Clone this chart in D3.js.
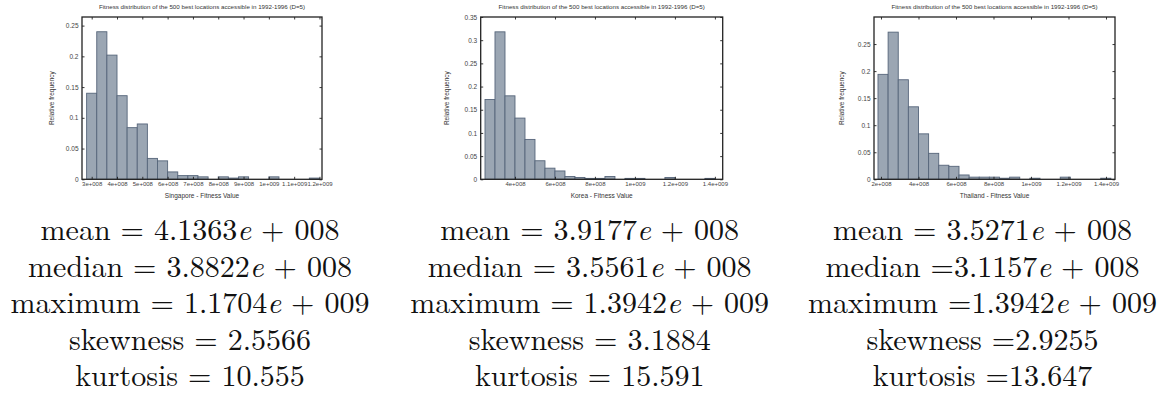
<!DOCTYPE html>
<html>
<head>
<meta charset="utf-8">
<script src="https://cdn.jsdelivr.net/npm/d3@7"></script>
<style>
  html, body { margin: 0; padding: 0; background: #fff; }
  svg { display: block; }
</style>
</head>
<body>
<svg id="chart" width="1173" height="400"></svg>
<script>
const chartTitle = 'Fitness distribution of the 500 best locations accessible in 1992-1996 (D=5)';
const countries = ['Singapore', 'Korea', 'Thailand'];

// relative frequency of each bin (23 bins per country)
const singaporeFreq = [0.14, 0.24, 0.202, 0.136, 0.084, 0.09, 0.034, 0.03, 0.012, 0.006, 0.006, 0.004,
  0, 0.004, 0.002, 0.004, 0, 0, 0.004, 0, 0, 0, 0.002];
const koreaFreq = [0.172, 0.318, 0.18, 0.132, 0.086, 0.04, 0.024, 0.018, 0.006, 0.004, 0.002, 0.002,
  0.006, 0, 0.002, 0.002, 0, 0, 0.004, 0, 0, 0, 0.002];
const thailandFreq = [0.194, 0.272, 0.184, 0.134, 0.084, 0.048, 0.026, 0.024, 0.008, 0.004, 0.004, 0.004,
  0.002, 0.004, 0, 0.002, 0, 0, 0.004, 0, 0, 0, 0.002];

// first bin edge and bin width (fitness value)
const binStart = [2.8e8, 2.5e8, 1.84e8];
const binWidth = [0.4e8, 0.5e8, 0.54e8];

// x ticks and their labels
const singaporeTicks = [3e8, 4e8, 5e8, 6e8, 7e8, 8e8, 9e8, 10e8, 11e8, 12e8];
const singaporeTickLabels = ['3e+008', '4e+008', '5e+008', '6e+008', '7e+008', '8e+008', '9e+008', '1e+009', '1.1e+009', '1.2e+009'];
const koreaTicks = [4e8, 6e8, 8e8, 10e8, 12e8, 14e8];
const koreaTickLabels = ['4e+008', '6e+008', '8e+008', '1e+009', '1.2e+009', '1.4e+009'];
const thailandTicks = [2e8, 4e8, 6e8, 8e8, 10e8, 12e8, 14e8];
const thailandTickLabels = ['2e+008', '4e+008', '6e+008', '8e+008', '1e+009', '1.2e+009', '1.4e+009'];

// y ticks
const singaporeYTicks = [0, 0.05, 0.1, 0.15, 0.2, 0.25];
const koreaYTicks = [0, 0.05, 0.1, 0.15, 0.2, 0.25, 0.3, 0.35];
const thailandYTicks = [0, 0.05, 0.1, 0.15, 0.2, 0.25];

// summary statistics under each plot
const statNames = ['mean', 'median', 'maximum', 'skewness', 'kurtosis'];
const singaporeStats = ['4.1363e+008', '3.8822e+008', '1.1704e+009', '2.5566', '10.555'];
const koreaStats = ['3.9177e+008', '3.5561e+008', '1.3942e+009', '3.1884', '15.591'];
const thailandStats = ['3.5271e+008', '3.1157e+008', '1.3942e+009', '2.9255', '13.647'];
const singaporeEq = [' = ', ' = ', ' = ', ' = ', ' = '];
const koreaEq = [' = ', ' = ', ' = ', ' = ', ' = '];
const thailandEq = [' = ', ' =', ' =', ' =', ' ='];

const panels = [
  { freq: singaporeFreq, ticks: singaporeTicks, tickLabels: singaporeTickLabels, yTicks: singaporeYTicks, stats: singaporeStats, eq: singaporeEq },
  { freq: koreaFreq, ticks: koreaTicks, tickLabels: koreaTickLabels, yTicks: koreaYTicks, stats: koreaStats, eq: koreaEq },
  { freq: thailandFreq, ticks: thailandTicks, tickLabels: thailandTickLabels, yTicks: thailandYTicks, stats: thailandStats, eq: thailandEq }
];

// layout, in pixels
const frames = [{ l: 82, r: 322 }, { l: 480.7, r: 722.7 }, { l: 874, r: 1115 }];
const frameTop = 17;
const frameBottom = 179.3;
const xDomains = [[2.617e8, 12.1e8], [2.285e8, 14.39e8], [1.627e8, 14.48e8]];
const yMax = [0.264, 0.35, 0.3];
const yLabelOffset = [30, 34, 32];
const tickLen = 2.5;
const sansFont = 'Liberation Sans, Arial, sans-serif';
const serifFont = 'Latin Modern Roman, CMU Serif, Computer Modern, Liberation Serif, serif';

const svg = d3.select('#chart');
const yFmt = (d) => (d === 0 ? '0' : String(+d.toFixed(2)));

// one stats line made of separate text pieces (so the "e" can be italic)
function statLine (g, cx, baseline, pieces) {
  const nodes = pieces.map((pc) => g.append('text')
    .attr('font-family', serifFont).attr('font-size', 30).attr('fill', '#111')
    .attr('font-style', pc.italic ? 'italic' : null)
    .style('white-space', 'pre')
    .attr('y', baseline)
    .text(pc.text));
  const widths = nodes.map((n) => n.node().getComputedTextLength());
  let xPos = cx - d3.sum(widths) / 2;
  nodes.forEach((n, k) => {
    n.attr('x', xPos);
    xPos += widths[k];
  });
}

panels.forEach((p, i) => {
  const { l, r } = frames[i];
  const x = d3.scaleLinear().domain(xDomains[i]).range([l, r]);
  const y = d3.scaleLinear().domain([0, yMax[i]]).range([frameBottom, frameTop]);
  const g = svg.append('g');

  const bins = p.freq.map((f, k) => ({
    x0: binStart[i] + k * binWidth[i],
    x1: binStart[i] + (k + 1) * binWidth[i],
    f
  })).filter((b) => b.f > 0);

  g.selectAll('rect.bar')
    .data(bins)
    .join('rect')
    .attr('class', 'bar')
    .attr('x', (b) => x(b.x0))
    .attr('y', (b) => y(b.f))
    .attr('width', (b) => x(b.x1) - x(b.x0))
    .attr('height', (b) => y(0) - y(b.f))
    .attr('fill', '#9ba6b3')
    .attr('stroke', '#56657a')
    .attr('stroke-width', 0.9);

  // frame ticks, pointing inward on every side
  const labelMap = new Map(p.ticks.map((t, k) => [t, p.tickLabels[k]]));
  const bottom = g.append('g').attr('transform', `translate(0,${frameBottom})`)
    .call(d3.axisBottom(x).tickValues(p.ticks).tickSizeInner(-tickLen).tickSizeOuter(0)
      .tickPadding(2.5).tickFormat((d) => labelMap.get(d)));
  const top = g.append('g').attr('transform', `translate(0,${frameTop})`)
    .call(d3.axisTop(x).tickValues(p.ticks).tickSizeInner(-tickLen).tickSizeOuter(0).tickFormat(''));
  const left = g.append('g').attr('transform', `translate(${l},0)`)
    .call(d3.axisLeft(y).tickValues(p.yTicks).tickSizeInner(-tickLen).tickSizeOuter(0)
      .tickPadding(3.5).tickFormat(yFmt));
  const right = g.append('g').attr('transform', `translate(${r},0)`)
    .call(d3.axisRight(y).tickValues(p.yTicks).tickSizeInner(-tickLen).tickSizeOuter(0).tickFormat(''));

  [bottom, top, left, right].forEach((a) => {
    a.select('.domain').remove();
    a.selectAll('line').attr('stroke', '#222').attr('stroke-width', 0.9);
    a.selectAll('text').attr('font-family', sansFont).attr('font-size', 6).attr('fill', '#444');
  });
  left.selectAll('text').attr('font-size', 6.5);

  g.append('rect')
    .attr('x', l).attr('y', frameTop)
    .attr('width', r - l).attr('height', frameBottom - frameTop)
    .attr('fill', 'none').attr('stroke', '#222').attr('stroke-width', 1.3);

  const cx = (l + r) / 2;
  g.append('text').attr('font-family', sansFont).attr('fill', '#333')
    .attr('x', cx).attr('y', 9).attr('text-anchor', 'middle')
    .attr('font-size', 6.2).text(chartTitle);
  g.append('text').attr('font-family', sansFont).attr('fill', '#333')
    .attr('x', cx).attr('y', 197.5).attr('text-anchor', 'middle')
    .attr('font-size', 6.5).text(`${countries[i]} - Fitness Value`);
  g.append('text').attr('font-family', sansFont).attr('fill', '#333')
    .attr('transform', `translate(${l - yLabelOffset[i]},${(frameTop + frameBottom) / 2}) rotate(-90)`)
    .attr('text-anchor', 'middle').attr('dy', '0.35em')
    .attr('font-size', 6.5).text('Relative frequency');

  // statistics block
  const sx = cx - 12;
  p.stats.forEach((s, k) => {
    const parts = s.split('e+');
    const pieces = [{ text: statNames[k] + p.eq[k] + parts[0] }];
    if (parts.length > 1) {
      pieces.push({ text: 'e', italic: true });
      pieces.push({ text: ' + ' + parts[1] });
    }
    statLine(g, sx, 240 + k * 36.5, pieces);
  });
});
</script>
</body>
</html>
